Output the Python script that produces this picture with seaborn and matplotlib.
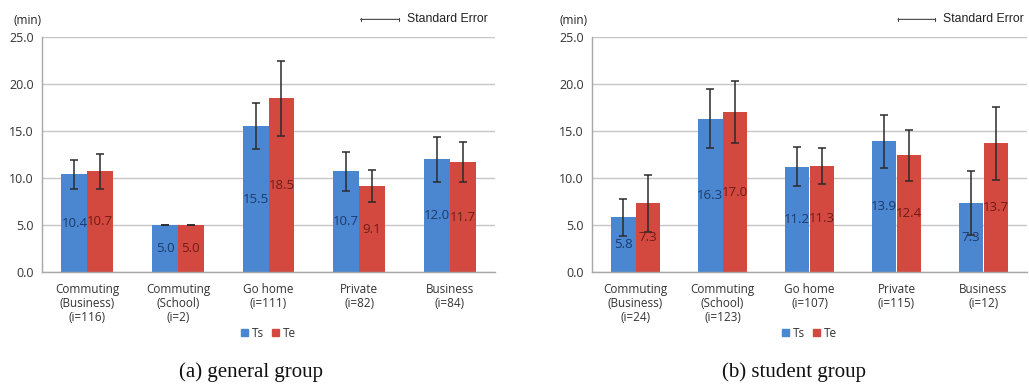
import pandas as pd
import matplotlib.pyplot as plt
import seaborn as sns
from matplotlib.patches import Patch

# Data (minutes)
cats_a = ['Commuting\n(Business)\n(i=116)', 'Commuting\n(School)\n(i=2)', 'Go home\n(i=111)',
          'Private\n(i=82)', 'Business\n(i=84)']
ts_a = [10.4, 5.0, 15.5, 10.7, 12.0]
te_a = [10.7, 5.0, 18.5, 9.1, 11.7]
ts_se_a = [1.55, 0.0, 2.45, 2.05, 2.4]
te_se_a = [1.85, 0.0, 4.0, 1.7, 2.1]

cats_b = ['Commuting\n(Business)\n(i=24)', 'Commuting\n(School)\n(i=123)', 'Go home\n(i=107)',
          'Private\n(i=115)', 'Business\n(i=12)']
ts_b = [5.8, 16.3, 11.2, 13.9, 7.3]
te_b = [7.3, 17.0, 11.3, 12.4, 13.7]
ts_se_b = [1.95, 3.15, 2.1, 2.8, 3.4]
te_se_b = [3.0, 3.3, 1.9, 2.7, 3.9]

series = ['Ts', 'Te']
yticks = [0, 5, 10, 15, 20, 25]
captions = ['(a) general group', '(b) student group']

blue = '#4A87D0'
red = '#D4493F'
lab_colors = ['#1C3A6B', '#6E1B17']

sns.set_style('white')
plt.rcParams['font.family'] = ['Open Sans', 'DejaVu Sans']

fig = plt.figure(figsize=(10.29, 3.84), dpi=100)
ax_a = fig.add_axes([42 / 1029, 112 / 384, 453 / 1029, 235 / 384])
ax_b = fig.add_axes([592 / 1029, 112 / 384, 435 / 1029, 235 / 384])


def draw_panel(ax, cats, ts, te, ts_se, te_se, caption, cap_x, min_x):
    df = pd.DataFrame({
        'cat': cats * 2,
        'val': ts + te,
        'series': ['Ts'] * len(cats) + ['Te'] * len(cats),
    })
    sns.barplot(data=df, x='cat', y='val', hue='series', hue_order=series,
                palette=[blue, red], saturation=1, width=0.57, errorbar=None,
                ax=ax, linewidth=0, legend=False)

    # error bars and value labels
    for cont, se, col in zip(ax.containers, [ts_se, te_se], lab_colors):
        xs = [b.get_x() + b.get_width() / 2 for b in cont]
        hs = [b.get_height() for b in cont]
        ax.errorbar(xs, hs, yerr=se, fmt='none', ecolor='#2b2b2b',
                    elinewidth=1.1, capsize=2.6, capthick=1.1, zorder=4)
        for x, h in zip(xs, hs):
            ax.text(x, h / 2, f'{h:.1f}', ha='center', va='center',
                    fontsize=9.5, color=col, zorder=5)

    ax.set_ylim(0, 25)
    ax.set_xlim(-0.5, len(cats) - 0.5)
    ax.set_yticks(yticks)
    ax.set_yticklabels([f'{v:.1f}' for v in yticks])
    ax.set_xlabel('')
    ax.set_ylabel('')
    ax.yaxis.grid(True, color='#C6C6C6', linewidth=1)
    ax.set_axisbelow(True)
    for s in ['top', 'right']:
        ax.spines[s].set_visible(False)
    for s in ['left', 'bottom']:
        ax.spines[s].set_color('#A8A8A8')
        ax.spines[s].set_linewidth(1)
    ax.tick_params(axis='y', length=3, color='#A8A8A8', labelsize=9,
                   labelcolor='#333333', pad=3)
    ax.tick_params(axis='x', which='major', length=0, labelsize=8.5,
                   labelcolor='#333333', pad=8)
    ax.set_xticks([i + 0.5 for i in range(len(cats) - 1)], minor=True)
    ax.tick_params(axis='x', which='minor', length=4, color='#A8A8A8',
                   direction='out')
    for lab in ax.get_xticklabels():
        lab.set_linespacing(1.08)

    # legend below the axis
    handles = [Patch(color=blue, label='Ts'), Patch(color=red, label='Te')]
    ax.legend(handles=handles, ncol=2, loc='center', bbox_to_anchor=(0.5, -0.26),
              frameon=False, handlelength=0.6, handleheight=0.6,
              handletextpad=0.3, columnspacing=0.7, fontsize=8.5,
              labelcolor='#333333')

    # "(min)" unit label and the standard error key
    ax.text(min_x, 1.072, '(min)', transform=ax.transAxes, ha='left',
            va='center', fontsize=8.5, color='#222222')
    ax.annotate('', xy=(0.795, 1.075), xytext=(0.697, 1.075),
                xycoords='axes fraction',
                arrowprops=dict(arrowstyle='|-|, widthA=0.12, widthB=0.12',
                                color='#444444', lw=0.8))
    ax.text(0.806, 1.075, 'Standard Error', transform=ax.transAxes,
            ha='left', va='center', fontsize=8.8, family='Liberation Sans',
            color='#222222')

    fig.text(cap_x, 0.031, caption, ha='center', va='center',
             fontsize=15, family='Liberation Serif', color='#111111')


draw_panel(ax_a, cats_a, ts_a, te_a, ts_se_a, te_se_a, captions[0], 251 / 1029, -0.064)
draw_panel(ax_b, cats_b, ts_b, te_b, ts_se_b, te_se_b, captions[1], 794 / 1029, -0.074)

fig.savefig('out.png', dpi=100)
